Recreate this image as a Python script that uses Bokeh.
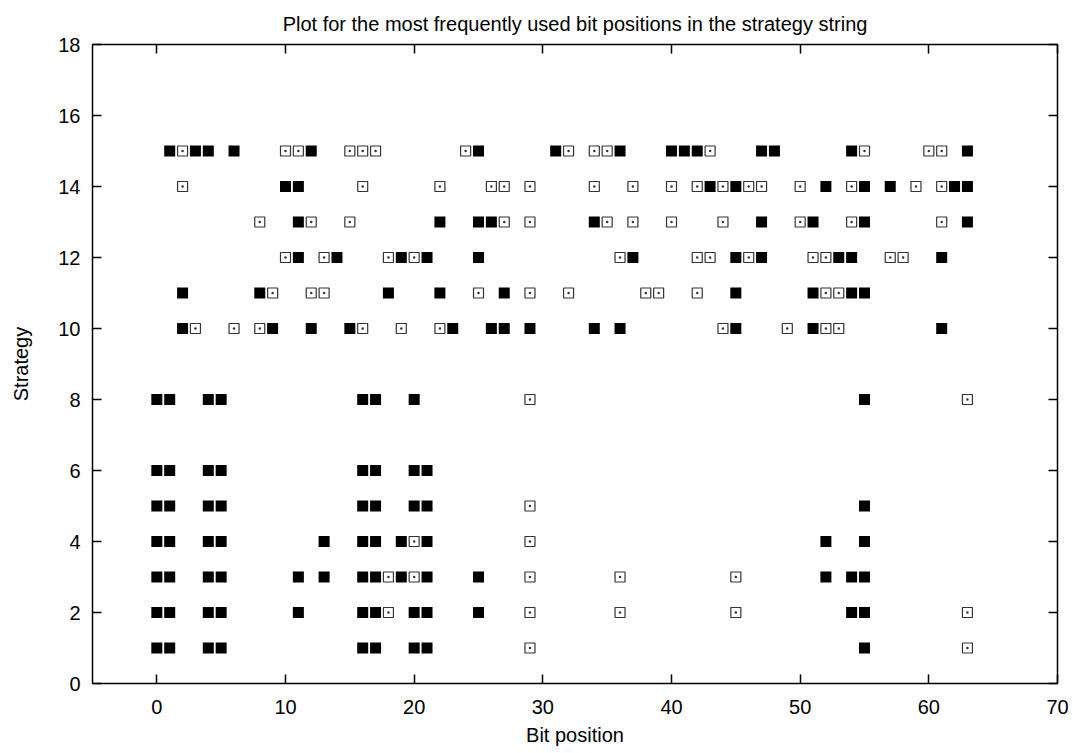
from bokeh.plotting import figure
from bokeh.models import LinearAxis, FixedTicker, Range1d
from bokeh.embed import file_html
from bokeh.resources import INLINE

# ---- data: bit positions per strategy (filled = solid squares, open = dotted squares)
s1_filled = [0, 1, 4, 5, 16, 17, 20, 21, 55]
s1_open = [29, 63]
s2_filled = [0, 1, 4, 5, 11, 16, 17, 20, 21, 25, 54, 55]
s2_open = [18, 29, 36, 45, 63]
s3_filled = [0, 1, 4, 5, 11, 13, 16, 17, 19, 21, 25, 52, 54, 55]
s3_open = [18, 20, 29, 36, 45]
s4_filled = [0, 1, 4, 5, 13, 16, 17, 19, 21, 52, 55]
s4_open = [20, 29]
s5_filled = [0, 1, 4, 5, 16, 17, 20, 21, 55]
s5_open = [29]
s6_filled = [0, 1, 4, 5, 16, 17, 20, 21]
s6_open = []
s8_filled = [0, 1, 4, 5, 16, 17, 20, 55]
s8_open = [29, 63]
s10_filled = [2, 9, 12, 15, 23, 26, 27, 29, 34, 36, 45, 51, 61]
s10_open = [3, 6, 8, 16, 19, 22, 44, 49, 52, 53]
s11_filled = [2, 8, 18, 22, 27, 45, 51, 54, 55]
s11_open = [9, 12, 13, 25, 29, 32, 38, 39, 42, 52, 53]
s12_filled = [11, 14, 19, 21, 25, 37, 45, 47, 53, 54, 61]
s12_open = [10, 13, 18, 20, 36, 42, 43, 46, 51, 52, 57, 58]
s13_filled = [11, 22, 25, 26, 34, 47, 51, 55, 63]
s13_open = [8, 12, 15, 27, 29, 35, 37, 40, 44, 50, 54, 61]
s14_filled = [10, 11, 43, 45, 52, 55, 57, 62, 63]
s14_open = [2, 16, 22, 26, 27, 29, 34, 37, 40, 42, 44, 46, 47, 50, 54, 59, 61]
s15_filled = [1, 3, 4, 6, 12, 25, 31, 36, 40, 41, 42, 47, 48, 54, 63]
s15_open = [2, 10, 11, 15, 16, 17, 24, 32, 34, 35, 43, 55, 60, 61]

strategies = [1, 2, 3, 4, 5, 6, 8, 10, 11, 12, 13, 14, 15]
filled_rows = [s1_filled, s2_filled, s3_filled, s4_filled, s5_filled, s6_filled, s8_filled,
               s10_filled, s11_filled, s12_filled, s13_filled, s14_filled, s15_filled]
open_rows = [s1_open, s2_open, s3_open, s4_open, s5_open, s6_open, s8_open,
             s10_open, s11_open, s12_open, s13_open, s14_open, s15_open]

x_ticks = [0, 10, 20, 30, 40, 50, 60, 70]
y_ticks = [0, 2, 4, 6, 8, 10, 12, 14, 16, 18]

fx, fy, ox, oy = [], [], [], []
for s, row in zip(strategies, filled_rows):
    fx += row
    fy += [s] * len(row)
for s, row in zip(strategies, open_rows):
    ox += row
    oy += [s] * len(row)

FONT = "Liberation Sans"

p = figure(width=1070, height=753, output_backend="svg", toolbar_location=None,
           x_range=Range1d(-5, 70), y_range=Range1d(0, 18),
           title="Plot for the most frequently used bit positions in the strategy string",
           min_border_left=92, min_border_right=13, min_border_top=44, min_border_bottom=70)

p.title.align = "center"
p.title.text_font = FONT
p.title.text_font_size = "20px"
p.title.text_font_style = "normal"
p.title.text_color = "black"
p.title.text_line_height = 0.9
p.title.standoff = 20

p.grid.visible = False
p.outline_line_color = "black"
p.outline_line_width = 1.5
p.background_fill_color = "white"
p.border_fill_color = "white"

for ax in [p.xaxis[0], p.yaxis[0]]:
    ax.axis_line_color = None
    ax.major_tick_in = 9
    ax.major_tick_out = 0
    ax.minor_tick_line_color = None
    ax.major_tick_line_color = "black"
    ax.major_tick_line_width = 1.5
    ax.major_label_text_font = FONT
    ax.major_label_text_font_size = "20px"
    ax.major_label_text_color = "black"
    ax.axis_label_text_font = FONT
    ax.axis_label_text_font_size = "20px"
    ax.axis_label_text_font_style = "normal"
    ax.axis_label_text_color = "black"

p.xaxis[0].ticker = FixedTicker(ticks=x_ticks)
p.yaxis[0].ticker = FixedTicker(ticks=y_ticks)
p.xaxis[0].axis_label = "Bit position"
p.yaxis[0].axis_label = "Strategy"
p.xaxis[0].major_label_standoff = 16
p.xaxis[0].axis_label_standoff = 7
p.yaxis[0].major_label_standoff = 12
p.yaxis[0].axis_label_standoff = 23

for side, tk in [("above", x_ticks), ("right", y_ticks)]:
    ax = LinearAxis(ticker=FixedTicker(ticks=tk))
    ax.axis_line_color = None
    ax.major_tick_in = 9
    ax.major_tick_out = 0
    ax.minor_tick_line_color = None
    ax.major_tick_line_color = "black"
    ax.major_tick_line_width = 1.5
    ax.major_label_text_font_size = "0px"
    ax.major_label_text_alpha = 0
    ax.major_label_standoff = 0
    p.add_layout(ax, side)

p.scatter(x=fx, y=fy, marker="square", size=11, fill_color="black", line_color="black", line_width=0)
p.scatter(x=ox, y=oy, marker="square_dot", size=10, fill_color="white", line_color="#333333", line_width=1.2)

open("out.html", "w").write(file_html(p, INLINE))
